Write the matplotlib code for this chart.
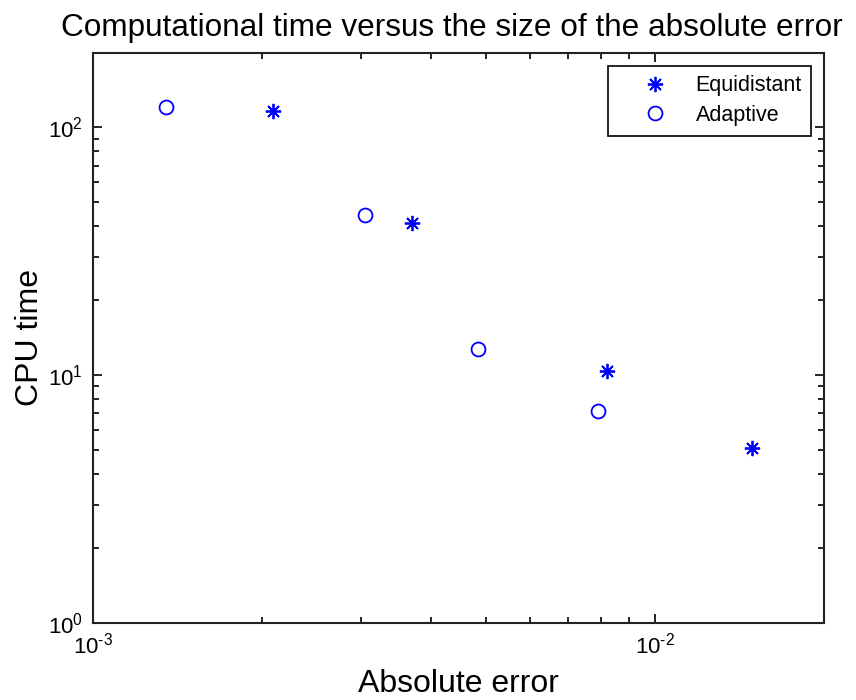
import matplotlib
matplotlib.use('Agg')
import matplotlib.pyplot as plt
from matplotlib.ticker import FuncFormatter, LogLocator
import numpy as np

# ==============================
# Data
# ==============================

equi_err = [2.09e-3, 3.69e-3, 8.21e-3, 1.49e-2]
equi_cpu = [116.4, 41.0, 10.4, 5.07]

adapt_err = [1.35e-3, 3.05e-3, 4.84e-3, 7.93e-3]
adapt_cpu = [120.5, 44.3, 12.7, 7.14]

# ==============================
# Style
# ==============================

plt.rcParams['font.family'] = ['Liberation Sans', 'DejaVu Sans']
plt.rcParams['mathtext.fontset'] = 'custom'
plt.rcParams['mathtext.rm'] = 'Liberation Sans'
plt.rcParams['mathtext.it'] = 'Liberation Sans'


def pow10_label(v, pos):
    # MATLAB-style 10^n labels with a plain hyphen for negative powers
    e = int(round(np.log10(v)))
    if e < 0:
        return r'$\mathdefault{10^{\text{-}%d}}$' % (-e)
    return r'$\mathdefault{10^{%d}}$' % e


fig = plt.figure(figsize=(8.56, 7.0), dpi=100)
ax = fig.add_axes([0.1083, 0.1104, 0.963 - 0.1083, 0.9247 - 0.1104])

ax.loglog(equi_err, equi_cpu, linestyle='none', marker=(8, 2, 0), markersize=11,
          color='#0000ff', markeredgewidth=1.3, label='Equidistant')
ax.loglog(adapt_err, adapt_cpu, linestyle='none', marker='o', markersize=10,
          markerfacecolor='none', markeredgecolor='#0000ff', markeredgewidth=1.3,
          label='Adaptive')

ax.set_xlim(1e-3, 2e-2)
ax.set_ylim(1, 200)
ax.xaxis.set_major_locator(LogLocator(base=10))
ax.yaxis.set_major_locator(LogLocator(base=10))
ax.xaxis.set_major_formatter(FuncFormatter(pow10_label))
ax.yaxis.set_major_formatter(FuncFormatter(pow10_label))

ax.tick_params(which='both', direction='in', top=True, right=True, width=1.2)
ax.tick_params(which='major', length=6.5, labelsize=16, pad=7)
ax.tick_params(which='minor', length=4.3)
for s in ax.spines.values():
    s.set_linewidth(1.5)
    s.set_color('#222222')

ax.set_title('Computational time versus the size of the absolute error', fontsize=22.7,
             pad=12, x=0.4904)
ax.set_xlabel('Absolute error', fontsize=23, labelpad=8)
ax.set_ylabel('CPU time', fontsize=23, labelpad=2)

leg = ax.legend(loc='upper right', fontsize=15.5, fancybox=False, edgecolor='black',
                framealpha=1, borderaxespad=0.6, handlelength=3.4, handletextpad=0.2,
                labelspacing=0.4, borderpad=0.45)
leg.get_frame().set_linewidth(1.2)

plt.savefig('out.png', dpi=100)
plt.close()
